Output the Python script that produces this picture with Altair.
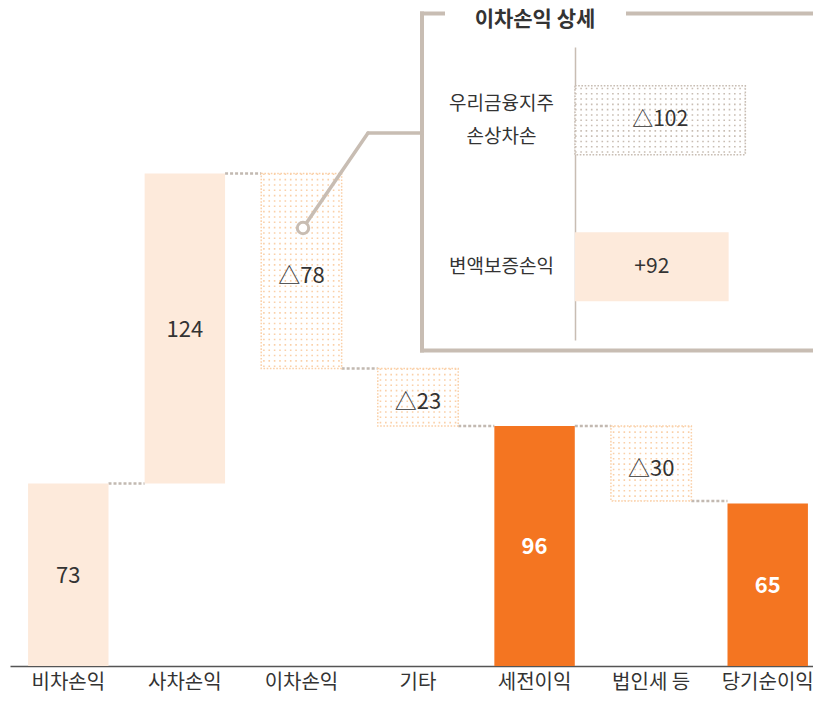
import altair as alt
import pandas as pd

FONT = "Noto Sans CJK KR"

# ---------------- data ----------------
categories = ["비차손익", "사차손익", "이차손익", "기타", "세전이익", "법인세 등", "당기순이익"]
values = [73, 124, -78, -23, 96, -30, 65]
kinds = ["pos", "pos", "neg", "neg", "total", "neg", "total"]
bar_labels = ["73", "124", "△78", "△23", "96", "△30", "65"]

detail_cats = ["우리금융지주|손상차손", "변액보증손익"]
detail_values = [-102, 92]
detail_kinds = ["neg", "pos"]
detail_labels = ["△102", "+92"]

inset_title = "이차손익 상세"

# ---------------- colours ----------------
PEACH = "#fdeadb"
ORANGE = "#f47521"
DOT = "#fad0a8"
GREY = "#c8bdb3"
CONN = "#c2b9b1"
TXT = "#333333"

# ---------------- build waterfall table ----------------
rows = []
run = 0
for c, v, k, l in zip(categories, values, kinds, bar_labels):
    if k == "total":
        y0, y1 = 0, v
    else:
        y0, y1 = run, run + v
    run = y1
    rows.append(dict(cat=c, y0=y0, y1=y1, kind=k, label=l, mid=(y0 + y1) / 2))
df = pd.DataFrame(rows)

conn = pd.DataFrame(dict(cat=categories[:-1], nxt=categories[1:], level=list(df["y1"][:-1])))

cols = pd.DataFrame(dict(col=list(range(15))))
dots = df[df.kind == "neg"].merge(cols, how="cross")

ddf = pd.DataFrame(dict(dcat=detail_cats, kind=detail_kinds, label=detail_labels,
                        dstart=[0, 0], dlen=[abs(v) for v in detail_values]))
ddf["dmid"] = ddf["dlen"] / 2
drows = pd.DataFrame(dict(row=list(range(13))))
ddots = ddf[ddf.kind == "neg"].merge(drows, how="cross")

# ---------------- main waterfall ----------------
xscale = alt.Scale(domain=categories, range=[0, 816], paddingInner=0.31, paddingOuter=0.155)
xaxis = alt.Axis(title=None, ticks=False, domainColor="#555555", domainWidth=1.5,
                 labelFont=FONT, labelFontSize=20, labelColor=TXT, labelPadding=6,
                 labelAngle=0, grid=False)
yscale = alt.Scale(domain=[0, 262], nice=False, zero=False)

def X(**kw):
    return alt.X("cat:N", sort=categories, scale=xscale, axis=xaxis, title=None, **kw)

Y = alt.Y("y0:Q", scale=yscale, axis=None, title=None)

base = alt.Chart(df)

connectors = alt.Chart(conn).mark_rule(color=CONN, strokeWidth=2.5, strokeDash=[3, 2]).encode(
    x=alt.X("cat:N", sort=categories, scale=xscale, axis=xaxis, title=None, bandPosition=1),
    x2=alt.X2("nxt:N", bandPosition=0),
    y=alt.Y("level:Q", scale=yscale, axis=None, title=None),
)

neg_bars = base.transform_filter("datum.kind == 'neg'").mark_bar(
    fill="white", stroke=DOT, strokeWidth=1.5, strokeDash=[1.6, 1.6]
).encode(x=X(), y=Y, y2="y1:Q")

dot_rules = alt.Chart(dots).mark_rule(color=DOT, strokeWidth=1.6, strokeDash=[1.6, 3.73], strokeCap="butt").encode(
    x=X(),
    xOffset=alt.XOffset("col:N", scale=alt.Scale(paddingInner=0, paddingOuter=0)),
    y=Y, y2="y1:Q",
)

pos_bars = base.transform_filter("datum.kind == 'pos'").mark_bar(fill=PEACH).encode(x=X(), y=Y, y2="y1:Q")
tot_bars = base.transform_filter("datum.kind == 'total'").mark_bar(fill=ORANGE).encode(x=X(), y=Y, y2="y1:Q")

txt_pos = base.transform_filter("datum.kind == 'pos'").mark_text(
    font=FONT, fontSize=22, color=TXT, baseline="middle", dy=1
).encode(x=X(), y=alt.Y("mid:Q", scale=yscale, axis=None), text="label:N")

txt_neg = base.transform_filter("datum.kind == 'neg'").mark_text(
    font=FONT, fontSize=22, color=TXT, baseline="middle", dy=5
).encode(x=X(), y=alt.Y("mid:Q", scale=yscale, axis=None), text="label:N")

txt_tot = base.transform_filter("datum.kind == 'total'").mark_text(
    font=FONT, fontSize=22, fontWeight="bold", color="white", baseline="middle", dy=1
).encode(x=X(), y=alt.Y("mid:Q", scale=yscale, axis=None), text="label:N")

main = alt.layer(connectors, neg_bars, dot_rules, pos_bars, tot_bars, txt_pos, txt_neg, txt_tot)

# ---------------- inset ----------------
ixscale = alt.Scale(domain=[-338.3, 147.3], range=[0, 811], nice=False, zero=False)
iyscale = alt.Scale(domain=detail_cats, range=[36, 329], paddingInner=0.53, paddingOuter=0.265)
iyaxis = alt.Axis(orient="left", offset=-565, ticks=False, grid=False, title=None,
                  domainColor=GREY, domainWidth=1.5,
                  labelExpr="split(datum.value, '|')", labelAlign="center", labelBaseline="middle",
                  labelPadding=74, labelFont=FONT, labelFontSize=19, labelColor=TXT,
                  labelLineHeight=33,
                  labelOffset={"condition": {"test": "indexof(datum.value, '|') >= 0", "value": -16.5},
                               "value": 0})

IX = alt.X("dstart:Q", scale=ixscale, axis=None, title=None)
IY = alt.Y("dcat:N", sort=detail_cats, scale=iyscale, axis=iyaxis, title=None)

ibase = alt.Chart(ddf)
ineg = ibase.transform_filter("datum.kind == 'neg'").mark_bar(
    fill="white", stroke=GREY, strokeWidth=1.5, strokeDash=[1.6, 1.6]
).encode(x=IX, x2="dlen:Q", y=IY)
idots = alt.Chart(ddots).mark_rule(color=GREY, strokeWidth=1.6, strokeDash=[1.6, 3.7], strokeCap="butt").encode(
    x=IX, x2="dlen:Q", y=IY,
    yOffset=alt.YOffset("row:N", scale=alt.Scale(paddingInner=0, paddingOuter=0)),
)
ipos = ibase.transform_filter("datum.kind == 'pos'").mark_bar(fill=PEACH).encode(x=IX, x2="dlen:Q", y=IY)
itxt = ibase.mark_text(font=FONT, fontSize=21, color=TXT, baseline="middle").encode(
    x=alt.X("dmid:Q", scale=ixscale, axis=None), y=IY, text="label:N"
)
inset = alt.layer(ineg, idots, ipos, itxt)

# ---------------- decoration (frame, title, leader) ----------------
one = pd.DataFrame(dict(k=[0]))
def rule(x, y, x2=None, y2=None, w=4, color=GREY, cap="square"):
    enc = dict(x=alt.value(x), y=alt.value(y))
    if x2 is not None:
        enc["x2"] = alt.value(x2)
    if y2 is not None:
        enc["y2"] = alt.value(y2)
    return alt.Chart(one).mark_rule(color=color, strokeWidth=w, strokeCap=cap).encode(**enc)

frame = [
    rule(412, 2.5, y2=339.5),
    rule(412, 339.5, x2=811),
    rule(412, 2.5, x2=433),
    rule(618, 2.5, x2=811),
]
title = alt.Chart(one).mark_text(font=FONT, fontSize=21, fontWeight="bold", color=TXT, baseline="middle").encode(
    x=alt.value(525), y=alt.value(8.5), text=alt.value(inset_title)
)
leader = [
    rule(293, 217, x2=358, y2=122, w=3.5, cap="round"),
    rule(358, 122, x2=412, w=3.5, cap="round"),
]
circle = alt.Chart(one).mark_point(shape="circle", filled=False, fill="white", fillOpacity=1,
                                   stroke=GREY, strokeWidth=3, size=130, opacity=1).encode(
    x=alt.value(293), y=alt.value(217)
)

chart = alt.layer(main, inset, *frame, title, *leader, circle).resolve_scale(
    x="independent", y="independent"
).properties(
    width=803, height=655,
    padding={"left": 2, "top": 3, "right": 0, "bottom": 29},
    autosize=alt.AutoSizeParams(type="none"),
).configure(font=FONT).configure_view(stroke=None)

chart.save("out.html", embed_options={"renderer": "svg", "actions": False})
